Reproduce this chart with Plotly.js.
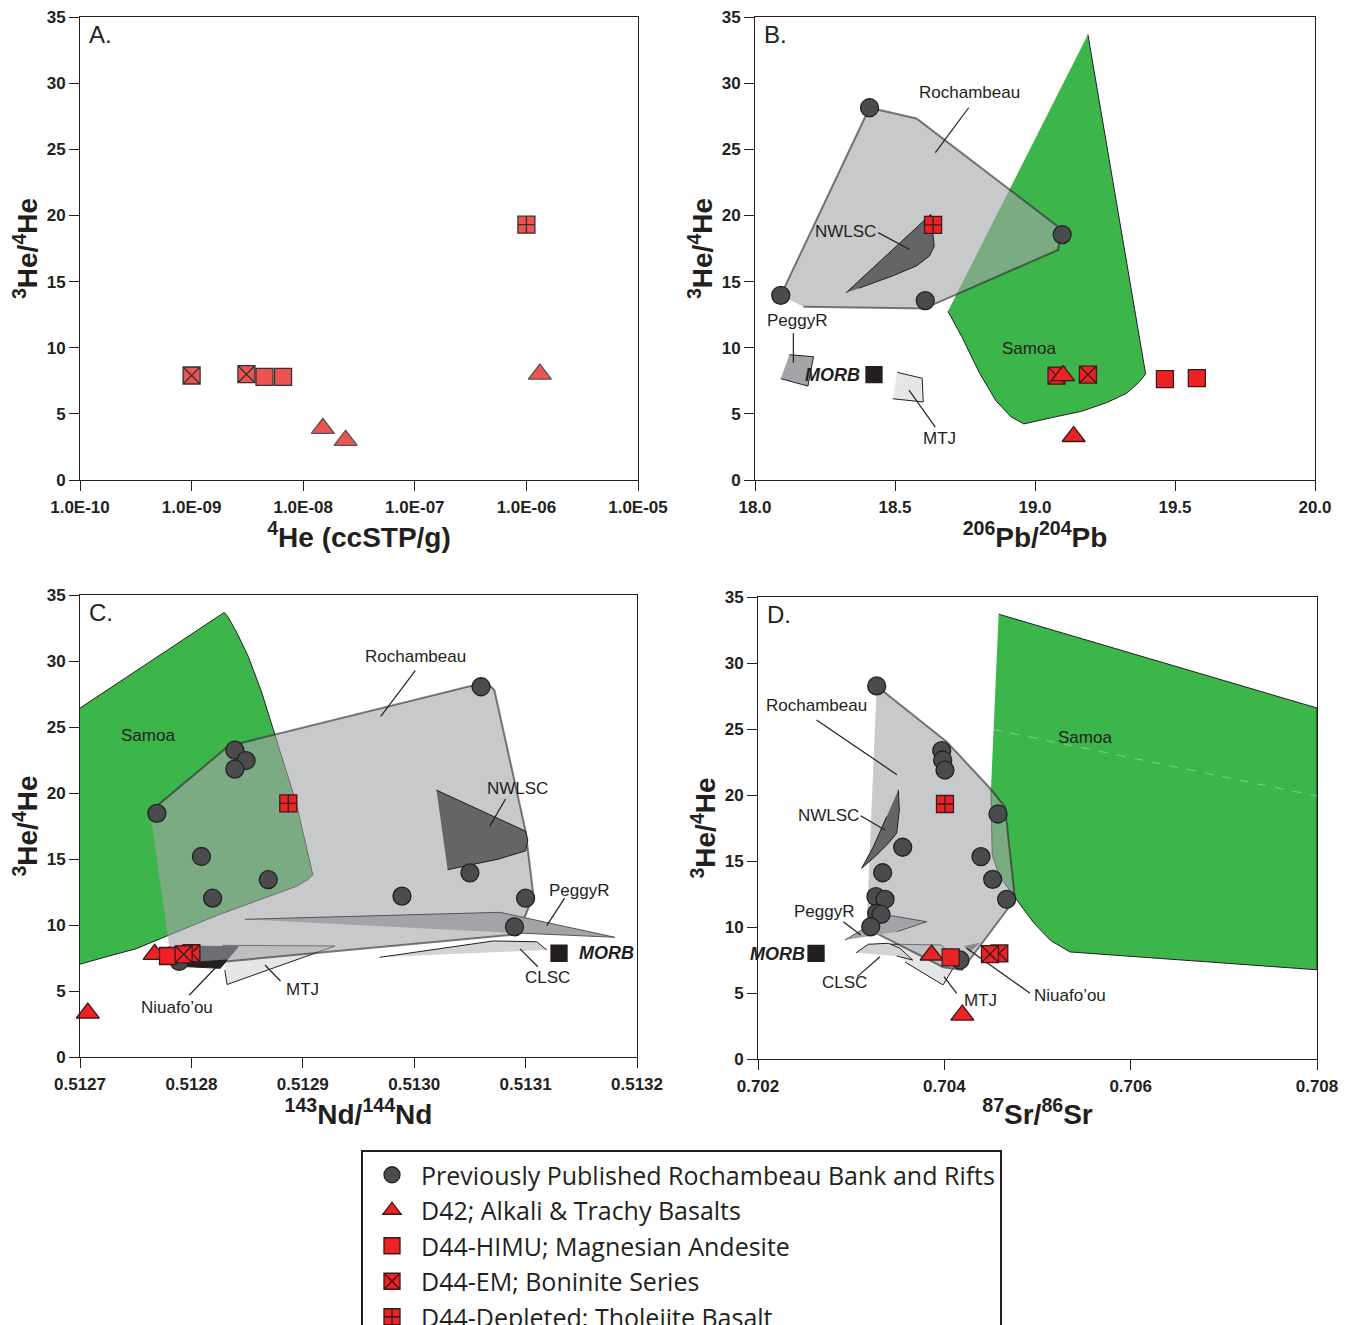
<!DOCTYPE html>
<html><head><meta charset="utf-8">
<script src="https://cdn.plot.ly/plotly-3.0.1.min.js"></script>
<style>body{margin:0;padding:0;background:#fff;overflow:hidden}#chart{width:1348px;height:1325px}</style>
</head><body><div id="chart"></div>
<script>
// ================= DATA =================
// Panel A : 4He (ccSTP/g) vs 3He/4He
const aTriHe4 = [1.5e-8, 2.4e-8, 1.32e-6];
const aTriR   = [3.9, 3.0, 8.0];
const aSqHe4  = [4.5e-9, 6.6e-9];
const aSqR    = [7.8, 7.8];
const aSqxHe4 = [1.0e-9, 3.1e-9];
const aSqxR   = [7.9, 8.0];
const aSqcHe4 = [1.0e-6];
const aSqcR   = [19.3];
const aTickVals   = [1e-10, 1e-9, 1e-8, 1e-7, 1e-6, 1e-5];
const aTickLabels = ['1.0E-10','1.0E-09','1.0E-08','1.0E-07','1.0E-06','1.0E-05'];

// Panel B : 206Pb/204Pb
const bCircPb = [18.409, 19.097, 18.092, 18.608];
const bCircR  = [28.14, 18.55, 13.96, 13.56];
const bTriPb  = [19.10, 19.138];
const bTriR   = [7.89, 3.29];
const bSqPb   = [19.464, 19.578];
const bSqR    = [7.62, 7.70];
const bSqxPb  = [19.077, 19.189];
const bSqxR   = [7.89, 7.97];
const bSqcPb  = [18.636];
const bSqcR   = [19.28];
const bMorbPb = [18.425];
const bMorbR  = [7.97];
const bSamoaX = [19.189, 19.395, 19.372, 19.326, 19.257, 19.166, 19.074, 18.96, 18.914, 18.86, 18.80, 18.738, 18.689];
const bSamoaY = [33.67, 8.02, 7.40, 6.54, 5.86, 5.19, 4.78, 4.24, 4.78, 6.0, 8.16, 10.86, 12.75];
const bRochX  = [18.092, 18.409, 18.577, 19.094, 19.082, 18.604, 18.173];
const bRochY  = [13.96, 28.14, 27.33, 18.96, 17.39, 12.96, 13.10];
const bNwlscX = [18.325, 18.628, 18.64, 18.623, 18.578, 18.494, 18.371];
const bNwlscY = [14.15, 20.09, 17.66, 16.93, 16.20, 15.45, 14.50];
const bPeggyX = [18.123, 18.209, 18.189, 18.092];
const bPeggyY = [9.47, 9.32, 7.10, 7.66];
const bMtjX   = [18.508, 18.597, 18.601, 18.492];
const bMtjY   = [8.14, 7.69, 5.90, 6.14];
const bLeadX  = [18.763, 18.644, null, 18.44, 18.552, null, 18.137, 18.137, null, 18.55, 18.644];
const bLeadY  = [28.14, 24.75, null, 18.7, 17.42, null, 11.09, 8.87, null, 6.80, 4.0];
const bLabels = ['Rochambeau', 'NWLSC', 'PeggyR', 'MTJ', 'Samoa'];
const bLabelX = [18.767, 18.322, 18.149, 18.66, 18.978];
const bLabelY = [29.28, 18.78, 12.09, 3.13, 9.96];

// Panel C : 143Nd/144Nd
const cCircNd = [0.51306, 0.512839, 0.512849, 0.512839, 0.512769, 0.512809, 0.512869, 0.512819, 0.512989, 0.51305, 0.5131, 0.51309, 0.512789];
const cCircR  = [28.05, 23.24, 22.46, 21.81, 18.46, 15.19, 13.43, 12.03, 12.19, 13.95, 12.03, 9.86, 7.24];
const cTriNd  = [0.512767, 0.512707];
const cTriR   = [7.78, 3.32];
const cSqNd   = [0.512779];
const cSqR    = [7.65];
const cSqxNd  = [0.5128, 0.512793];
const cSqxR   = [7.86, 7.78];
const cSqcNd  = [0.512887];
const cSqcR   = [19.22];
const cMorbNd = [0.51313];
const cMorbR  = [7.86];
const cSamoaX = [0.5127, 0.5128295, 0.512833, 0.512841, 0.512851, 0.512863, 0.512878, 0.512894, 0.512909, 0.512905, 0.512894, 0.512863, 0.512824, 0.512781, 0.51275, 0.512726, 0.5127];
const cSamoaY = [26.43, 33.68, 33.32, 32.11, 30.35, 27.65, 23.59, 19.27, 13.81, 13.46, 12.92, 11.97, 10.76, 9.27, 8.19, 7.65, 7.03];
const cRochX  = [0.512763, 0.512833, 0.513065, 0.513072, 0.5131, 0.513107, 0.5131, 0.51309, 0.512831, 0.512785, 0.51278];
const cRochY  = [18.59, 23.54, 28.41, 27.78, 17.11, 12.24, 10.76, 9.27, 7.24, 7.4, 8.4];
const cNwlscX = [0.51302, 0.5131, 0.513102, 0.5131, 0.513076, 0.51303];
const cNwlscY = [20.22, 17.11, 16.43, 15.62, 15.0, 14.19];
const cPeggyX = [0.512848, 0.513077, 0.51318, 0.513086];
const cPeggyY = [10.43, 10.96, 9.07, 9.42];
const cMtjX   = [0.512828, 0.512929, 0.512832, 0.51283];
const cMtjY   = [8.46, 8.41, 5.49, 6.57];
const cNiuX   = [0.512787, 0.512842, 0.512832, 0.51279];
const cNiuY   = [8.41, 8.36, 7.35, 7.1];
const cNiuDarkX = [0.51279, 0.512832, 0.512826, 0.512793];
const cNiuDarkY = [7.1, 7.35, 6.72, 6.85];
const cClscX  = [0.512969, 0.513071, 0.51311, 0.513119];
const cClscY  = [7.55, 8.79, 8.73, 8.11];
const cLeadX  = [0.513001, 0.51297, null, 0.513082, 0.513068, null, 0.513135, 0.513119, null, 0.513111, 0.513095, null, 0.51288, 0.512866, null, 0.512798, 0.512824];
const cLeadY  = [29.27, 25.81, null, 19.54, 17.51, null, 12.03, 9.95, null, 6.84, 8.19, null, 5.76, 6.97, null, 4.68, 6.97];
const cLabels = ['Samoa', 'Rochambeau', 'NWLSC', 'PeggyR', 'CLSC', 'MTJ', 'Niuafo\u2019ou'];
const cLabelX = [0.512761, 0.513001, 0.513093, 0.513148, 0.51312, 0.5129, 0.512787];
const cLabelY = [24.35, 30.35, 20.35, 12.65, 6.03, 5.08, 3.73];

// Panel D : 87Sr/86Sr
const dCircSr = [0.703274, 0.703972, 0.703982, 0.704007, 0.704576, 0.703553, 0.704393, 0.703338, 0.704519, 0.703266, 0.703363, 0.704669, 0.703274, 0.70332, 0.70321, 0.704168];
const dCircR  = [28.26, 23.36, 22.65, 21.89, 18.56, 16.04, 15.33, 14.11, 13.61, 12.30, 12.10, 12.10, 11.04, 10.95, 10.02, 7.5];
const dTriSr  = [0.703864, 0.704193];
const dTriR   = [7.88, 3.33];
const dSqSr   = [0.704068];
const dSqR    = [7.70];
const dSqxSr  = [0.70459, 0.70449];
const dSqxR   = [8.0, 7.95];
const dSqcSr  = [0.704007];
const dSqcR   = [19.32];
const dMorbSr = [0.702623];
const dMorbR  = [8.0];
const dSamoaX = [0.704583, 0.708, 0.708, 0.705349, 0.705142, 0.704959, 0.704775, 0.704592, 0.704514, 0.7045];
const dSamoaY = [33.70, 26.59, 6.76, 8.11, 8.97, 10.32, 12.08, 13.84, 15.46, 20.32];
const dSamoaDashX = [0.704523, 0.708];
const dSamoaDashY = [24.97, 19.92];
const dRochX  = [0.703274, 0.704025, 0.70449, 0.704651, 0.704758, 0.704189, 0.70399, 0.703165];
const dRochY  = [28.26, 24.04, 20.51, 19.11, 12.10, 6.74, 6.95, 9.9];
const dNwlscX = [0.703506, 0.703517, 0.703489, 0.703399, 0.703274, 0.703113, 0.703238, 0.703381];
const dNwlscY = [20.38, 18.86, 17.10, 16.34, 15.45, 14.45, 16.08, 18.36];
const dPeggyX = [0.702934, 0.703381, 0.703811, 0.703489];
const dPeggyY = [9.02, 10.91, 10.40, 9.64];
const dClscX  = [0.703052, 0.703184, 0.703399, 0.703524, 0.70366, 0.703489];
const dClscY  = [8.05, 8.69, 8.77, 8.39, 7.50, 7.80];
const dMtjX   = [0.70340, 0.703964, 0.704147, 0.703986, 0.703578];
const dMtjY   = [8.70, 8.64, 7.5, 5.61, 7.35];
const dNiuX   = [0.704211, 0.704375, 0.704275];
const dNiuY   = [8.51, 8.77, 8.13];
const dLeadX  = [0.702628, 0.703491, null, 0.703101, 0.703362, null, 0.702916, 0.703102, null, 0.703066, 0.703309, null, 0.704133, 0.703996, null, 0.70424, 0.70492];
const dLeadY  = [25.68, 21.54, null, 18.43, 17.35, null, 10.4, 9.39, null, 6.24, 7.75, null, 4.98, 6.24, null, 8.39, 4.98];
const dLabels = ['Rochambeau', 'NWLSC', 'PeggyR', 'CLSC', 'MTJ', 'Niuafo\u2019ou', 'Samoa'];
const dLabelX = [0.702628, 0.702761, 0.702711, 0.702931, 0.704385, 0.705349, 0.705509];
const dLabelY = [26.81, 18.43, 11.19, 5.78, 4.43, 4.78, 24.38];

const legendNames = ['Previously Published Rochambeau Bank and Rifts', 'D42; Alkali & Trachy Basalts', 'D44-HIMU; Magnesian Andesite', 'D44-EM; Boninite Series', 'D44-Depleted; Tholeiite Basalt'];

// ================= STYLE =================
const INK = '#231f20';
const SANS = '"Liberation Sans", Arial, sans-serif';
const RED = '#ec2227';
const RED_A = '#ec5451';
const GREEN = '#3cb54a';
const ROCH_FILL = 'rgba(163,165,168,0.6)';
const ROCH_LINE = 'rgba(40,40,40,0.6)';

const traces = [];
function poly(x, y, xa, ya, fill, line, lw) {
  traces.push({type:'scatter', mode:'lines', x:x, y:y, xaxis:xa, yaxis:ya, fill:'toself',
    fillcolor:fill, line:{color:line, width:lw===undefined?1:lw}, hoverinfo:'skip', showlegend:false});
}
function lines(x, y, xa, ya, color, dash, w) {
  traces.push({type:'scatter', mode:'lines', x:x, y:y, xaxis:xa, yaxis:ya,
    line:{color:color, width:w||1.2, dash:dash||'solid'}, hoverinfo:'skip', showlegend:false});
}
function pts(x, y, xa, ya, sym, size, fill, lineCol, legIdx, show) {
  const t = {type:'scatter', mode:'markers', x:x, y:y, xaxis:xa, yaxis:ya, cliponaxis:false,
    marker:{symbol:sym, size:size, color:fill, line:{color:lineCol, width:1.3}},
    hoverinfo:'skip', showlegend:!!show};
  if (legIdx !== null) { t.name = legendNames[legIdx]; t.legendgroup = 'g'+legIdx; t.legendrank = legIdx+1; }
  traces.push(t);
}

// ---- Panel A
pts(aSqxHe4, aSqxR, 'x', 'y', 'square-x', 17, RED_A, '#333', 3, false);
pts(aSqHe4, aSqR, 'x', 'y', 'square', 17, RED_A, '#333', 2, false);
pts(aTriHe4, aTriR, 'x', 'y', 'triangle-up', 20, RED_A, '#555', 1, false);
pts(aSqcHe4, aSqcR, 'x', 'y', 'square-cross', 17, RED_A, '#333', 4, false);

// ---- Panel B
poly(bSamoaX, bSamoaY, 'x2', 'y2', GREEN, INK, 1);
poly(bRochX, bRochY, 'x2', 'y2', ROCH_FILL, ROCH_LINE, 2);
poly(bNwlscX, bNwlscY, 'x2', 'y2', '#646567', INK, 1);
poly(bPeggyX, bPeggyY, 'x2', 'y2', '#a3a4a7', INK, 1);
poly(bMtjX, bMtjY, 'x2', 'y2', '#e6e6e7', INK, 1);
lines(bLeadX, bLeadY, 'x2', 'y2', INK);
pts(bCircPb, bCircR, 'x2', 'y2', 'circle', 18, '#4a4b4d', '#222', 0, false);
pts(bMorbPb, bMorbR, 'x2', 'y2', 'square', 16, INK, INK, null, false);
pts(bSqxPb, bSqxR, 'x2', 'y2', 'square-x', 17, RED, '#3a1a1a', 3, false);
pts(bTriPb, bTriR, 'x2', 'y2', 'triangle-up', 20, RED, '#3a1a1a', 1, false);
pts(bSqPb, bSqR, 'x2', 'y2', 'square', 17, RED, '#3a1a1a', 2, false);
pts(bSqcPb, bSqcR, 'x2', 'y2', 'square-cross', 17, RED, '#3a1a1a', 4, false);

// ---- Panel C
poly(cMtjX, cMtjY, 'x3', 'y3', '#e6e6e7', INK, 1);
poly(cSamoaX, cSamoaY, 'x3', 'y3', GREEN, INK, 1);
poly(cRochX, cRochY, 'x3', 'y3', ROCH_FILL, ROCH_LINE, 2);
poly(cNwlscX, cNwlscY, 'x3', 'y3', '#646567', INK, 1);
poly(cPeggyX, cPeggyY, 'x3', 'y3', '#a3a4a7', '#555', 1);
poly(cClscX, cClscY, 'x3', 'y3', '#d3d3d5', INK, 1);
poly(cNiuX, cNiuY, 'x3', 'y3', '#6d6e71', '#6d6e71', 1);
poly(cNiuDarkX, cNiuDarkY, 'x3', 'y3', INK, INK, 1);
lines(cLeadX, cLeadY, 'x3', 'y3', INK);
pts(cCircNd, cCircR, 'x3', 'y3', 'circle', 18, '#4a4b4d', '#222', 0, true);
pts(cMorbNd, cMorbR, 'x3', 'y3', 'square', 16, INK, INK, null, false);
pts(cTriNd, cTriR, 'x3', 'y3', 'triangle-up', 20, RED, '#3a1a1a', 1, true);
pts(cSqNd, cSqR, 'x3', 'y3', 'square', 17, RED, '#3a1a1a', 2, true);
pts(cSqxNd, cSqxR, 'x3', 'y3', 'square-x', 17, RED, '#3a1a1a', 3, true);
pts(cSqcNd, cSqcR, 'x3', 'y3', 'square-cross', 17, RED, '#3a1a1a', 4, true);

// ---- Panel D
poly(dMtjX, dMtjY, 'x4', 'y4', '#e6e6e7', INK, 1);
poly(dClscX, dClscY, 'x4', 'y4', '#d3d3d5', INK, 1);
poly(dSamoaX, dSamoaY, 'x4', 'y4', GREEN, INK, 1);
lines(dSamoaDashX, dSamoaDashY, 'x4', 'y4', 'rgba(255,255,255,0.35)', 'dash', 1);
poly(dRochX, dRochY, 'x4', 'y4', ROCH_FILL, ROCH_LINE, 2);
poly(dNwlscX, dNwlscY, 'x4', 'y4', '#646567', INK, 1);
poly(dPeggyX, dPeggyY, 'x4', 'y4', '#a3a4a7', '#555', 1);
poly(dNiuX, dNiuY, 'x4', 'y4', '#8a8b8e', '#8a8b8e', 1);
lines(dLeadX, dLeadY, 'x4', 'y4', INK);
pts(dCircSr, dCircR, 'x4', 'y4', 'circle', 18, '#4a4b4d', '#222', 0, false);
pts(dMorbSr, dMorbR, 'x4', 'y4', 'square', 16, INK, INK, null, false);
pts(dTriSr, dTriR, 'x4', 'y4', 'triangle-up', 20, RED, '#3a1a1a', 1, false);
pts(dSqSr, dSqR, 'x4', 'y4', 'square', 17, RED, '#3a1a1a', 2, false);
pts(dSqxSr, dSqxR, 'x4', 'y4', 'square-x', 17, RED, '#3a1a1a', 3, false);
pts(dSqcSr, dSqcR, 'x4', 'y4', 'square-cross', 17, RED, '#3a1a1a', 4, false);

// ================= LAYOUT =================
const W = 1348, H = 1325;
const px = v => v / W;
const py = v => 1 - v / H;
const tickFont = {family: SANS, size: 17, color: INK, weight: 'bold'};
const titleFont = {family: SANS, size: 28, color: INK, weight: 'bold'};
function ax(extra) {
  return Object.assign({showgrid:false, zeroline:false, showline:true, linecolor:INK, linewidth:1,
    mirror:true, ticks:'outside', ticklen:10, tickwidth:1, tickcolor:INK, tickfont:tickFont,
    fixedrange:true, automargin:false}, extra);
}
const yTitle = {text:'<sup>3</sup>He/<sup>4</sup>He', font:titleFont, standoff:0};
function yax(top, bottom, anchor) {
  return ax({domain:[py(bottom), py(top)], range:[0,35], dtick:5, tick0:0, anchor:anchor, title:yTitle});
}
function xtitle(text) { return {text:text, font:titleFont, standoff:8}; }

const annotations = [];
function lab(text, x, y, xa, ya, opt) {
  annotations.push(Object.assign({text:text, x:x, y:y, xref:xa, yref:ya, showarrow:false,
    font:{family:SANS, size:17, color:INK}, xanchor:'center', yanchor:'middle'}, opt||{}));
}
const panelFont = {family:SANS, size:24, color:INK};
[['A.','x','y'],['B.','x2','y2'],['C.','x3','y3'],['D.','x4','y4']].forEach(p => {
  annotations.push({text:p[0], xref:p[1]+' domain', yref:p[2]+' domain', x:0.013, y:0.995,
    xanchor:'left', yanchor:'top', showarrow:false, font:panelFont});
});
bLabels.forEach((t,i) => lab(t, bLabelX[i], bLabelY[i], 'x2', 'y2'));
cLabels.forEach((t,i) => lab(t, cLabelX[i], cLabelY[i], 'x3', 'y3'));
dLabels.forEach((t,i) => lab(t, dLabelX[i], dLabelY[i], 'x4', 'y4'));
const morbFont = {family:SANS, size:18, color:INK, weight:'bold', style:'italic'};
lab('MORB', 18.383, 7.9, 'x2', 'y2', {xanchor:'right', font:morbFont});
lab('MORB', 0.513146, 7.86, 'x3', 'y3', {xanchor:'left', font:morbFont});
lab('MORB', 0.702523, 7.95, 'x4', 'y4', {xanchor:'right', font:morbFont});

const layout = {
  width: W, height: H,
  margin: {l:0, r:0, t:0, b:0, autoexpand:false},
  paper_bgcolor: '#fff', plot_bgcolor: '#fff',
  hovermode: false,
  showlegend: true,
  xaxis: ax({type:'log', domain:[px(80), px(638)], range:[-10,-5], tickvals:aTickVals, ticktext:aTickLabels,
    anchor:'y', ticklabelstandoff:2, title:xtitle('<sup>4</sup>He (ccSTP/g)')}),
  yaxis: yax(17, 480, 'x'),
  xaxis2: ax({domain:[px(755), px(1315)], range:[18,20], dtick:0.5, tick0:18, tickformat:'.1f',
    anchor:'y2', ticklabelstandoff:2, title:xtitle('<sup>206</sup>Pb/<sup>204</sup>Pb')}),
  yaxis2: yax(17, 480, 'x2'),
  xaxis3: ax({domain:[px(80), px(637)], range:[0.5127,0.5132], dtick:0.0001, tick0:0.5127, tickformat:'.4f',
    anchor:'y3', ticklabelstandoff:2, title:xtitle('<sup>143</sup>Nd/<sup>144</sup>Nd')}),
  yaxis3: yax(595, 1057, 'x3'),
  xaxis4: ax({domain:[px(758), px(1317)], range:[0.702,0.708], dtick:0.002, tick0:0.702, tickformat:'.3f',
    anchor:'y4', ticklabelstandoff:2, title:xtitle('<sup>87</sup>Sr/<sup>86</sup>Sr')}),
  yaxis4: yax(597, 1059, 'x4'),
  legend: {x:px(361), y:py(1150), xanchor:'left', yanchor:'top', bgcolor:'#fff', bordercolor:INK, borderwidth:2,
    font:{family:'"Open Sans", sans-serif', size:25, color:INK}, tracegroupgap:0, itemsizing:'trace',
    itemwidth:48, traceorder:'normal'},
  annotations: annotations
};

Plotly.newPlot('chart', traces, layout, {displayModeBar:false, staticPlot:true});
</script>
</body></html>
